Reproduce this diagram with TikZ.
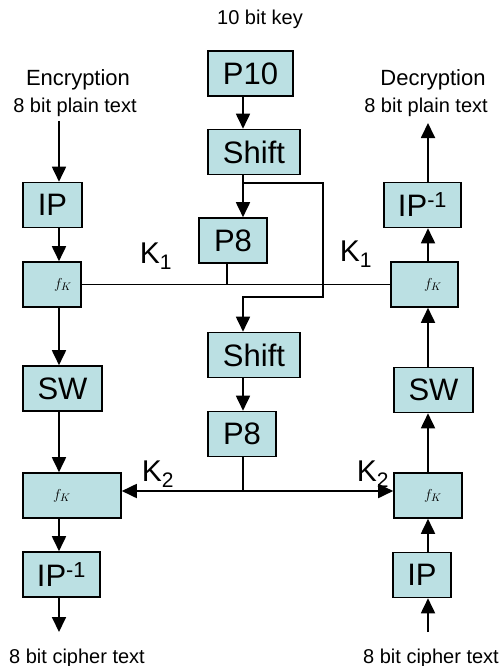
\documentclass[tikz,border=0pt]{standalone}
\usepackage{fontspec}
\setmainfont{Liberation Sans}
\usetikzlibrary{arrows.meta,positioning}
\definecolor{boxfill}{RGB}{187,224,227}

\tikzset{
  block/.style={draw,fill=boxfill,line width=1.6pt,inner sep=0pt,minimum height=45pt},
  bigtext/.style={font=\fontsize{31}{36}\selectfont},
  fktext/.style={font=\fontsize{15}{18}\selectfont},
  small/.style={font=\fontsize{20}{24}\selectfont},
  ktext/.style={font=\fontsize{30}{34}\selectfont},
  link/.style={line width=1.8pt},
  >={Triangle[length=15pt,width=14pt]}
}

\begin{document}
\begin{tikzpicture}[x=1pt,y=-1pt]
\useasboundingbox (0,0) rectangle (501,666);
\coordinate (colL) at (59,0);
\coordinate (colM) at (243,0);
\coordinate (colR) at (428,0);

\foreach \name/\x/\y/\w/\txt in {P10/250.5/73.5/85/P10,shiftA/254/152/92/Shift,peA/233/240.5/68/P8,
    shiftB/254/355/92/Shift,peB/242/434/68/P8,ipL/52.5/205/59/IP,swL/62.5/388.5/79/SW,
    ipiL/61.5/574.5/77/IP\textsuperscript{-1},ipiR/422.5/205/77/IP\textsuperscript{-1},
    swR/433.5/390/79/SW,ipR/422/575/58/IP}
  \node[block,bigtext,minimum width=\w pt] (\name) at (\x,\y) {\txt};

\foreach \name/\x/\y/\w/\dx in {fkA/52/284.5/58/22,fkB/72/495.5/98/-20,fkC/424.5/284.5/67/17,fkD/428/495.5/68/10}
  \node[block,fktext,minimum width=\w pt] (\name) at (\x,\y) {\hspace*{\dx pt}$f_K$};

\node[small] (key) at (260,19) {10 bit key};
\node[font=\fontsize{22}{26}\selectfont] (enc) at (78,80) {Encryption};
\node[small] (plainL) at (75,107) {8 bit plain text};
\node[font=\fontsize{22}{26}\selectfont] (dec) at (433,80) {Decryption};
\node[small] (plainR) at (426,107) {8 bit plain text};
\node[small] (cipherL) at (77,658) {8 bit cipher text};
\node[small] (cipherR) at (431,658) {8 bit cipher text};

\node[ktext] (k1L) at (156,256) {K\textsubscript{1}};
\node[ktext] (k1R) at (356,254) {K\textsubscript{1}};
\node[ktext] (k2L) at (158,474) {K\textsubscript{2}};
\node[ktext] (k2R) at (373,474) {K\textsubscript{2}};

% encryption side
\coordinate (inL) at (59,121);
\coordinate (outL) at (59,632);
\draw[link,->] (inL) -- (ipL.north -| colL);
\foreach \a/\b in {ipL/fkA,fkA/swL,swL/fkB,fkB/ipiL}
  \draw[link,->] (\a.south -| colL) -- (\b.north -| colL);
\draw[link,->] (ipiL.south -| colL) -- (outL);

% decryption side
\coordinate (inR) at (428,632);
\coordinate (outR) at (428,123);
\draw[link,->] (inR) -- (ipR.south -| colR);
\foreach \a/\b in {ipR/fkD,fkD/swR,swR/fkC,fkC/ipiR}
  \draw[link,->] (\a.north -| colR) -- (\b.south -| colR);
\draw[link,->] (ipiR.north -| colR) -- (outR);

% key schedule
\foreach \a/\b in {P10/shiftA,shiftA/peA,shiftB/peB}
  \draw[link,->] (\a.south -| colM) -- (\b.north -| colM);
\coordinate (bendA) at (323,183);
\coordinate (bendB) at (323,297);
\draw[link,->] (shiftA.south -| colM) |- (bendA) -- (bendB) -| (shiftB.north -| colM);

\coordinate (tapA) at (227,285);
\draw[link] (tapA |- peA.south) -- (tapA);
\draw[link] (fkA.east) -- (fkC.west);

\coordinate (tapB) at (243,491);
\draw[link] (tapB |- peB.south) -- (tapB);
\draw[link,<->] (fkB.east |- tapB) -- (fkD.west |- tapB);
\end{tikzpicture}
\end{document}
